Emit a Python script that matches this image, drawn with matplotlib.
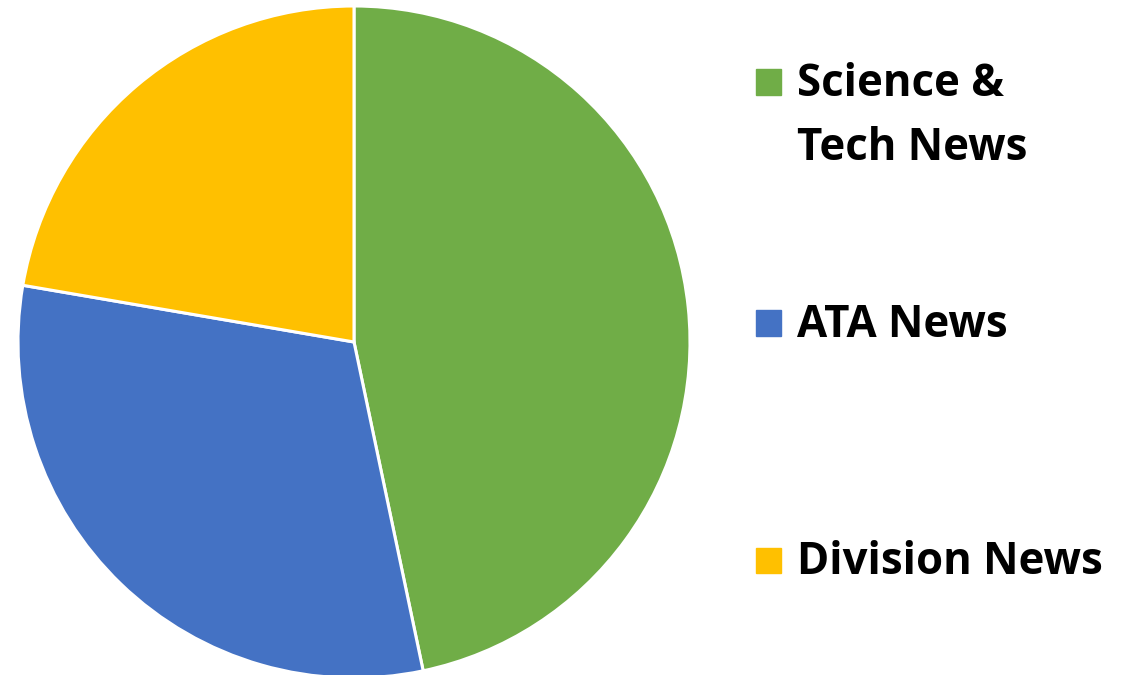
import numpy as np
import matplotlib.pyplot as plt
from matplotlib.patches import Rectangle

categories = ['Science &\nTech News', 'ATA News', 'Division News']
shares = [46.7, 31.0, 22.3]
colors = ['#70AD47', '#4472C4', '#FFC000']

fig = plt.figure(figsize=(11.34, 6.75), dpi=100)

# pie axes placed so the circle sits on the left
ax = fig.add_axes([18 / 1134, -3 / 675, 672 / 1134, 672 / 675])
ax.pie(shares, colors=colors, startangle=90, counterclock=False, radius=1,
       wedgeprops=dict(edgecolor='white', linewidth=2.2))
ax.set_xlim(-1, 1)
ax.set_ylim(-1, 1)
ax.set_aspect('equal')
ax.axis('off')

# legend drawn by hand: square marker next to first text line
label_y = [82, 323, 560]
for name, c, y in zip(categories, colors, label_y):
    fig.add_artist(Rectangle((756 / 1134, 1 - (y + 12.5) / 675), 25 / 1134, 25 / 675,
                             transform=fig.transFigure, color=c))
    fig.text(797 / 1134, 1 - (y - 20) / 675, name, ha='left', va='top',
             fontsize=31.5, fontweight='bold', family='Open Sans',
             linespacing=1.55)

fig.savefig('out.png', dpi=100)
